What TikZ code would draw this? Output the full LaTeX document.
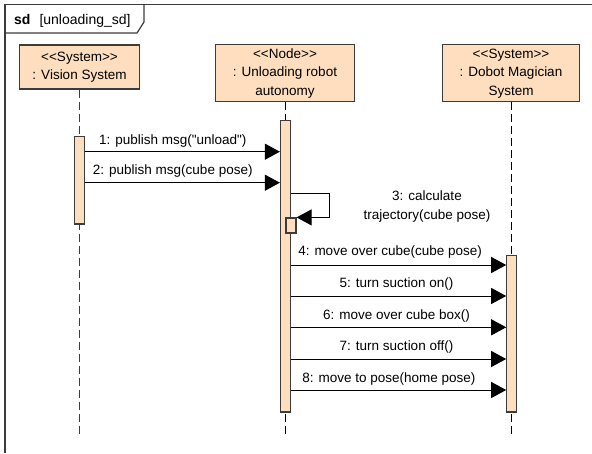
\documentclass[tikz,border=0pt]{standalone}
\usepackage{fontspec}
\setmainfont{Liberation Sans}[Ligatures=TeXOff]
\definecolor{headfill}{RGB}{254, 222, 190}
\definecolor{edgegray}{RGB}{60, 60, 60}
\usetikzlibrary{arrows.meta, calc}
\tikzset{
  head/.style={draw=edgegray, fill=headfill, line width=1.2pt, align=center, font=\fontsize{13.5}{18.5}\selectfont, inner sep=0pt},
  actbar/.style={draw=edgegray, fill=headfill, line width=1.2pt, minimum width=10pt, inner sep=0pt},
  lifeline/.style={dash pattern=on 8pt off 4pt, line width=1pt},
  msg/.style={-{Triangle[length=15pt, width=16pt]}, line width=1pt},
  lbl/.style={font=\fontsize{13.5}{19}\selectfont, align=center, inner sep=2pt},
}

\begin{document}
\begin{tikzpicture}[x=1pt, y=-1pt]
  \useasboundingbox (0,0) rectangle (592,453);

  % Frame
  \draw[edgegray, line width=1.2pt] (5,453) -- (5,4.7) -- (592,4.7);
  \draw[edgegray, line width=1.2pt] (5,33) -- (137,33) -- (144,22) -- (144,4.7);
  \node[anchor=west, font=\fontsize{14}{16}\selectfont, inner sep=0pt] (title) at (14,20.7) {\textbf{sd}\hspace{9pt}[unloading\_sd]};

  % Lifeline heads
  \node[head, minimum width=120pt, minimum height=44pt] (vis) at (79.5,67) {<<System>>\\: Vision System};
  \node[head, minimum width=139pt, minimum height=57pt] (unl) at (285,73.3) {<<Node>>\\: Unloading robot\\autonomy};
  \node[head, minimum width=137pt, minimum height=57pt] (dob) at (511,73.3) {<<System>>\\: Dobot Magician\\System};

  % Lifelines
  \coordinate (visend) at (79.5,437);
  \coordinate (unlend) at (285,437);
  \coordinate (dobend) at (511,437);
  \draw[lifeline, edgegray] (vis.south) -- (visend);
  \draw[lifeline] (unl.south) -- (unlend);
  \draw[lifeline] (dob.south) -- (dobend);

  % Activation bars
  \node[actbar, minimum height=87.3pt] (vact) at (79.5,180.35) {};
  \node[actbar, minimum height=291.3pt] (uact) at (285.5,266.35) {};
  \node[actbar, minimum height=156.3pt] (dact) at (511.8,333.85) {};
  \node[actbar, minimum height=15pt] (selfact) at (291,225.5) {};

  % Messages
  \draw[msg] (vact.east |- 0,151.7) -- (uact.west |- 0,151.7) node[lbl, pos=0.45, above=1.5pt] {1: publish msg("unload")};
  \draw[msg] (vact.east |- 0,182.7) -- (uact.west |- 0,182.7) node[lbl, pos=0.45, above=2.5pt] {2: publish msg(cube pose)};

  % Self call
  \coordinate (turn) at (329.3,193.3);
  \draw[msg] (uact.east |- turn) -- (turn) |- (selfact.north east);
  \node[lbl] (calc) at (427,207) {3: calculate\\trajectory(cube pose)};

  \draw[msg] (uact.east |- 0,265) -- (dact.west |- 0,265) node[lbl, pos=0.46, above=4.5pt] {4: move over cube(cube pose)};
  \draw[msg] (uact.east |- 0,296) -- (dact.west |- 0,296) node[lbl, pos=0.49, above=3pt] {5: turn suction on()};
  \draw[msg] (uact.east |- 0,327.3) -- (dact.west |- 0,327.3) node[lbl, pos=0.49, above=2.5pt] {6: move over cube box()};
  \draw[msg] (uact.east |- 0,359) -- (dact.west |- 0,359) node[lbl, pos=0.49, above=3pt] {7: turn suction off()};
  \draw[msg] (uact.east |- 0,390) -- (dact.west |- 0,390) node[lbl, pos=0.455, above=2.5pt] {8: move to pose(home pose)};
\end{tikzpicture}
\end{document}
